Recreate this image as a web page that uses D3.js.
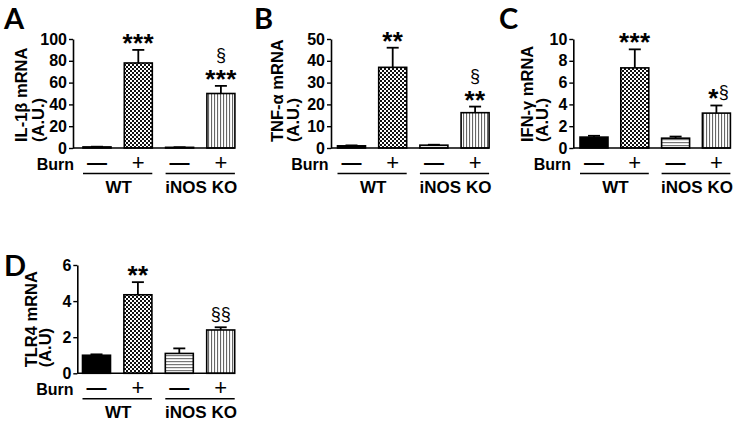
<!DOCTYPE html>
<html>
<head>
<meta charset="utf-8">
<script src="https://cdn.jsdelivr.net/npm/d3@7"></script>
<style>
  html, body { margin: 0; padding: 0; background: #fff; }
  svg { display: block; }
  text { font-family: "Liberation Sans", Arial, sans-serif; fill: #000; }
</style>
</head>
<body>
<svg id="chart" width="742" height="423"></svg>
<script>
// ---------- DATA ----------
const categories = ["WT −", "WT +", "iNOS KO −", "iNOS KO +"];
const burnSigns = ["—", "+", "—", "+"];
const groups = ["WT", "iNOS KO"];

const il1bMean = [1.0, 78, 0.6, 50];
const il1bSem  = [0.2, 12, 0.1, 7];
const il1bTicks = [0, 20, 40, 60, 80, 100];
const il1bMarks = [[], ["***"], [], ["***", "§"]];

const tnfMean = [1.0, 37, 1.3, 16.2];
const tnfSem  = [0.2, 9, 0.2, 2.8];
const tnfTicks = [0, 10, 20, 30, 40, 50];
const tnfMarks = [[], ["**"], [], ["**", "§"]];

const ifngMean = [1.0, 7.35, 0.9, 3.2];
const ifngSem  = [0.12, 1.7, 0.15, 0.7];
const ifngTicks = [0, 2, 4, 6, 8, 10];
const ifngMarks = [[], ["***"], [], ["*§"]];

const tlr4Mean = [1.0, 4.35, 1.1, 2.4];
const tlr4Sem  = [0.05, 0.7, 0.28, 0.15];
const tlr4Ticks = [0, 2, 4, 6];
const tlr4Marks = [[], ["**"], [], ["§§"]];

// ---------- LAYOUT ----------
const svg = d3.select("#chart");
const defs = svg.append("defs");

// checkered
const pc = defs.append("pattern").attr("id", "check").attr("patternUnits", "userSpaceOnUse")
  .attr("width", 4).attr("height", 4);
pc.append("rect").attr("width", 4).attr("height", 4).attr("fill", "#fff");
pc.append("rect").attr("width", 2).attr("height", 2).attr("fill", "#111");
pc.append("rect").attr("x", 2).attr("y", 2).attr("width", 2).attr("height", 2).attr("fill", "#111");
// horizontal stripes
const ph = defs.append("pattern").attr("id", "hstripe").attr("patternUnits", "userSpaceOnUse")
  .attr("width", 4).attr("height", 3);
ph.append("rect").attr("width", 4).attr("height", 3).attr("fill", "#fff");
ph.append("rect").attr("y", 1).attr("width", 4).attr("height", 1.2).attr("fill", "#777");
// vertical stripes
const pv = defs.append("pattern").attr("id", "vstripe").attr("patternUnits", "userSpaceOnUse")
  .attr("width", 3).attr("height", 4);
pv.append("rect").attr("width", 3).attr("height", 4).attr("fill", "#fff");
pv.append("rect").attr("x", 1).attr("width", 1.1).attr("height", 4).attr("fill", "#666");

const fills = ["#000", "url(#check)", "url(#hstripe)", "url(#vstripe)"];

const panels = [
  { letter: "A", lx: 4, ly: 29, mean: il1bMean, sem: il1bSem, ticks: il1bTicks, marks: il1bMarks,
    label: ["IL-1β mRNA", "(A.U.)"], labX: [27, 44], axisX: 73, firstBar: 83, step: 41.3,
    y0: 148, yTop: 39 },
  { letter: "B", lx: 254, ly: 29, mean: tnfMean, sem: tnfSem, ticks: tnfTicks, marks: tnfMarks,
    label: ["TNF-α mRNA", "(A.U.)"], labX: [283, 299], axisX: 331, firstBar: 337.5, step: 41.2,
    y0: 148, yTop: 39 },
  { letter: "C", lx: 499, ly: 29, mean: ifngMean, sem: ifngSem, ticks: ifngTicks, marks: ifngMarks,
    label: ["IFN-γ mRNA", "(A.U.)"], labX: [533, 548], axisX: 573.3, firstBar: 580, step: 40.8,
    y0: 148, yTop: 39 },
  { letter: "D", lx: 4, ly: 276, mean: tlr4Mean, sem: tlr4Sem, ticks: tlr4Ticks, marks: tlr4Marks,
    label: ["TLR4 mRNA", "(A.U)"], labX: [37, 51], axisX: 77.3, firstBar: 82.5, step: 41.4,
    y0: 373.3, yTop: 265 }
];

const barW = 28;

panels.forEach(p => {
  const g = svg.append("g");
  const yMax = p.ticks[p.ticks.length - 1];
  const y = d3.scaleLinear().domain([0, yMax]).range([p.y0, p.yTop]);
  const outer = (p.step - barW) / 2;
  const x = d3.scaleBand().domain(categories)
    .range([p.firstBar - outer, p.firstBar - outer + 4 * p.step])
    .paddingInner(1 - barW / p.step).paddingOuter((1 - barW / p.step) / 2);

  // panel letter
  g.append("text").attr("x", p.lx).attr("y", p.ly)
    .style("font-family", "Lato, 'Open Sans', sans-serif")
    .style("font-weight", "bold").style("font-size", "29px").text(p.letter);

  // y label
  p.label.forEach((t, i) => {
    g.append("text")
      .attr("transform", `translate(${p.labX[i]},${p.y0 - 6}) rotate(-90)`)
      .attr("text-anchor", "start")
      .style("font-weight", "bold").style("font-size", "16.5px").text(t);
  });

  // bars
  g.selectAll("rect.bar").data(categories).join("rect").attr("class", "bar")
    .attr("x", d => x(d)).attr("width", x.bandwidth())
    .attr("y", (d, i) => y(p.mean[i]))
    .attr("height", (d, i) => p.y0 - y(p.mean[i]))
    .attr("fill", (d, i) => fills[i])
    .attr("stroke", "#000").attr("stroke-width", 1.6);

  // error bars
  categories.forEach((c, i) => {
    const cx = x(c) + x.bandwidth() / 2;
    const top = y(p.mean[i] + p.sem[i]);
    g.append("line").attr("x1", cx).attr("x2", cx).attr("y1", y(p.mean[i])).attr("y2", top)
      .attr("stroke", "#000").attr("stroke-width", 1.8);
    g.append("line").attr("x1", cx - 6).attr("x2", cx + 6).attr("y1", top).attr("y2", top)
      .attr("stroke", "#000").attr("stroke-width", 1.8);

    // significance marks
    p.marks[i].forEach((str, k) => {
      const center = top - 13 - k * 17;
      const chars = Array.from(str);
      const widths = chars.map(ch => ch === "*" ? 10.5 : 10);
      const total = d3.sum(widths);
      let cur = cx - total / 2 + (str === "*§" ? 2 : 0);
      chars.forEach((ch, j) => {
        const isStar = ch === "*";
        g.append("text").attr("x", cur).attr("y", isStar ? center + 15 : center + 5.5)
          .style("font-weight", isStar ? "bold" : "normal")
          .style("font-size", isStar ? "26px" : "18px").text(ch);
        cur += widths[j];
      });
    });
  });

  // baseline
  g.append("line").attr("x1", p.axisX).attr("x2", x(categories[3]) + x.bandwidth())
    .attr("y1", p.y0).attr("y2", p.y0).attr("stroke", "#000").attr("stroke-width", 1.6);

  // y axis
  const ax = g.append("g").attr("transform", `translate(${p.axisX},0)`)
    .call(d3.axisLeft(y).tickValues(p.ticks).tickFormat(d3.format("d"))
      .tickSize(4).tickSizeOuter(0).tickPadding(2));
  ax.select(".domain").attr("stroke-width", 1.6);
  ax.selectAll(".tick line").attr("stroke-width", 1.4);
  ax.selectAll(".tick text").style("font-family", "'Liberation Sans', Arial, sans-serif")
    .style("font-weight", "bold").style("font-size", "16px").attr("fill", "#000");

  // burn row
  g.append("text").attr("x", p.firstBar - 9).attr("y", p.y0 + 22)
    .attr("text-anchor", "end").style("font-weight", "bold").style("font-size", "16px").text("Burn");
  categories.forEach((c, i) => {
    const cx = x(c) + x.bandwidth() / 2;
    const plus = burnSigns[i] === "+";
    g.append("text").attr("x", cx).attr("y", plus ? p.y0 + 21.5 : p.y0 + 21)
      .attr("text-anchor", "middle")
      .style("font-weight", plus ? "normal" : "bold")
      .style("font-size", plus ? "22px" : "20px").text(burnSigns[i]);
  });
  groups.forEach((gr, k) => {
    const xa = x(categories[2 * k]);
    const xb = x(categories[2 * k + 1]) + x.bandwidth();
    g.append("line").attr("x1", xa).attr("x2", xb).attr("y1", p.y0 + 25.5).attr("y2", p.y0 + 25.5)
      .attr("stroke", "#000").attr("stroke-width", 1.4);
    g.append("text").attr("x", (xa + xb) / 2 + 1).attr("y", p.y0 + 45)
      .attr("text-anchor", "middle").style("font-weight", "bold").style("font-size", "17px").text(gr);
  });
});
</script>
</body>
</html>
